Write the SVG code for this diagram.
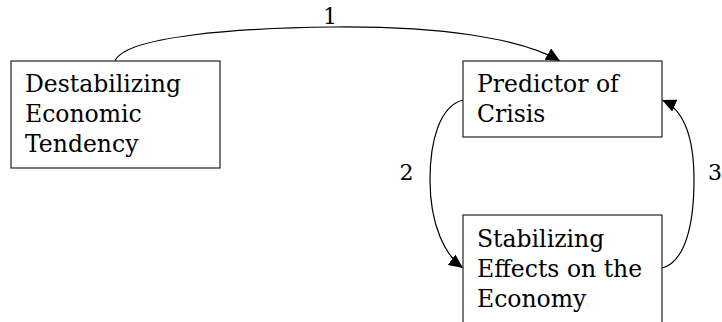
<svg xmlns="http://www.w3.org/2000/svg" width="722" height="322" viewBox="0 0 722 322">
<defs>
<style>
.box{fill:#fff;stroke:#222;stroke-width:1.2}
.t{font-family:"DejaVu Serif","Liberation Serif",serif;font-size:23.5px;fill:#000}
.e{fill:none;stroke:#000;stroke-width:1.2}
.l{font-family:"DejaVu Serif","Liberation Serif",serif;font-size:22px;fill:#000}
</style>
<marker id="ah" markerUnits="userSpaceOnUse" markerWidth="16" markerHeight="14" refX="14" refY="6.5" orient="auto" viewBox="0 0 16 14">
<path d="M0,0 L14,6.5 L0,13 Z" fill="#000"/>
</marker>
</defs>
<rect width="722" height="322" fill="#fff"/>
<g id="connectors">
<path class="e" d="M115,61 C125,36 240,28 333,27 C440,26 520,38 560,61" marker-end="url(#ah)"/>
<path class="e" d="M463,100 C440,106 430,140 430,180 C430,225 445,255 463,268" marker-end="url(#ah)"/>
<path class="e" d="M662,268 C685,262 694,225 694,180 C694,140 685,110 662,100" marker-end="url(#ah)"/>
<text class="l" x="330" y="24" text-anchor="middle">1</text>
<text class="l" x="406.5" y="180" text-anchor="middle">2</text>
<text class="l" x="715" y="180" text-anchor="middle">3</text>
</g>
<g id="n1">
<rect class="box" x="11" y="61" width="209" height="107"/>
<text class="t" x="25" y="92">Destabilizing</text>
<text class="t" x="25" y="122">Economic</text>
<text class="t" x="25" y="152">Tendency</text>
</g>
<g id="n2">
<rect class="box" x="463" y="61" width="199" height="76"/>
<text class="t" x="477" y="92">Predictor of</text>
<text class="t" x="477" y="122">Crisis</text>
</g>
<g id="n3">
<rect class="box" x="463" y="215" width="199" height="130"/>
<text class="t" x="477" y="247">Stabilizing</text>
<text class="t" x="477" y="277">Effects on the</text>
<text class="t" x="477" y="307">Economy</text>
</g>
</svg>
